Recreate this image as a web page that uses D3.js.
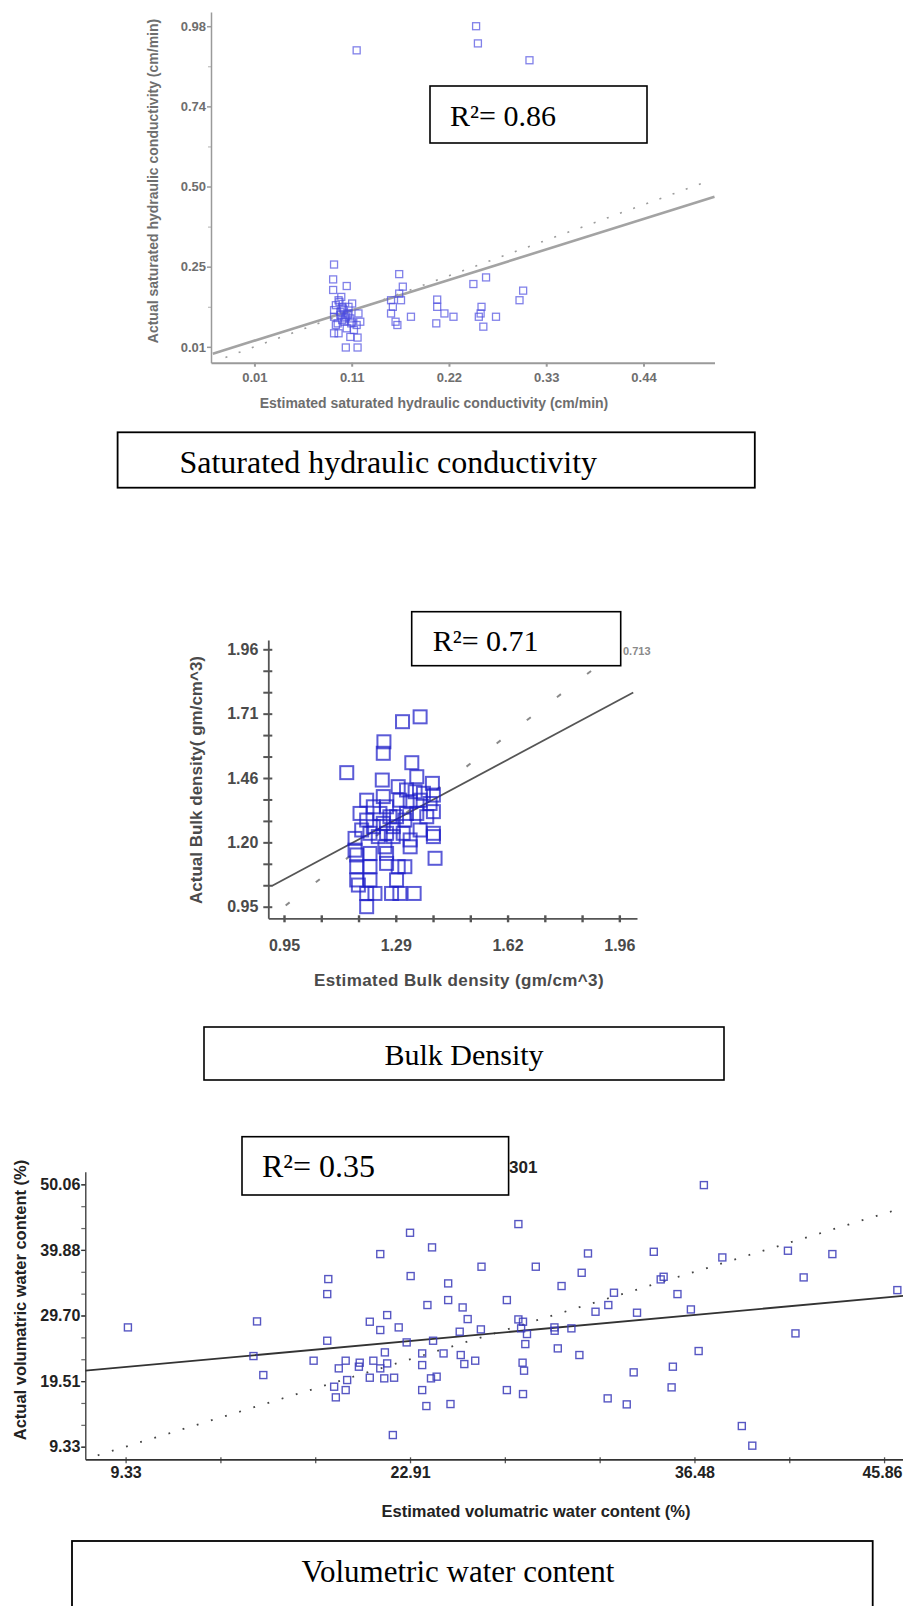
<!DOCTYPE html>
<html>
<head>
<meta charset="utf-8">
<script src="https://d3js.org/d3.v7.min.js"></script>
<style>
html,body{margin:0;padding:0;background:#fff;}
svg{display:block;}
</style>
</head>
<body>
<svg id="chart" width="903" height="1606"></svg>
<script>
// ===== Panel 1: Saturated hydraulic conductivity (cm/min) =====
const ksatEstimated = [0.123,0.255,0.257,0.314,0.098,0.097,0.097,0.112,0.098,0.111,
  0.124,0.124,0.103,0.107,0.114,0.118,0.125,0.127,0.107,0.100,
  0.112,0.120,0.105,0.116,0.109,0.098,0.123,0.103,0.116,0.098,
  0.106,0.114,0.111,0.118,0.100,0.170,0.174,0.172,0.161,0.161,
  0.166,0.183,0.168,0.163,0.170,0.212,0.212,0.220,0.230,0.211,
  0.252,0.266,0.261,0.260,0.258,0.263,0.277,0.303,0.307,
  0.105,0.110,0.113,0.108,0.102,0.117,0.104,0.109];
const ksatActual = [0.907,0.980,0.928,0.877,0.259,0.214,0.182,0.194,0.051,0.008,
  0.008,0.038,0.151,0.131,0.111,0.141,0.111,0.086,0.091,0.076,
  0.066,0.061,0.106,0.096,0.121,0.121,0.076,0.051,0.040,0.101,
  0.161,0.131,0.101,0.086,0.136,0.230,0.192,0.151,0.151,0.111,
  0.086,0.101,0.076,0.131,0.171,0.153,0.131,0.111,0.101,0.081,
  0.200,0.220,0.131,0.111,0.101,0.071,0.101,0.151,0.180,
  0.116,0.096,0.106,0.126,0.081,0.081,0.146,0.086];
const ksatXTickValues = [0.01, 0.1175, 0.225, 0.3325, 0.44];
const ksatXTickLabels = ["0.01","0.11","0.22","0.33","0.44"];
const ksatYTickValues = [0.01, 0.2525, 0.495, 0.7375, 0.98];
const ksatYTickLabels = ["0.01","0.25","0.50","0.74","0.98"];
const ksatFit = [0.02, 0.856];      // intercept, slope
const ksatR2 = "0.86";

// ===== Panel 2: Bulk density (gm/cm^3) =====
const bdEstimated = [1.139,1.251,1.249,1.307,1.360,1.335,1.246,1.350,1.397,
  1.294,1.319,1.345,1.370,1.400,1.299,1.330,1.360,1.390,1.400,1.350,1.319,1.380,1.289,
  1.199,1.219,1.249,1.259,1.239,1.269,1.179,1.199,1.219,1.249,1.279,1.259,1.234,1.209,1.184,1.279,1.309,1.330,1.330,1.360,1.400,1.400,1.405,1.314,
  1.164,1.164,1.169,1.169,1.169,1.174,1.209,1.209,1.209,1.259,1.259,1.254,1.294,1.314,1.289,
  1.199,1.224,1.199,1.274,1.299,1.342];
const bdActual = [1.476,1.597,1.552,1.676,1.695,1.515,1.447,1.460,1.434,
  1.421,1.408,1.401,1.395,1.388,1.368,1.362,1.368,1.355,1.323,1.316,1.316,1.303,1.303,
  1.368,1.342,1.382,1.342,1.316,1.303,1.316,1.290,1.264,1.277,1.264,1.238,1.225,1.238,1.251,1.225,1.238,1.212,1.185,1.251,1.238,1.225,1.140,1.290,
  1.218,1.172,1.153,1.107,1.055,1.035,1.159,1.107,1.055,1.159,1.120,1.185,1.107,1.107,1.055,
  1.002,1.002,0.950,1.002,1.002,1.002];
const bdXTickValues = [0.95, 1.2867, 1.6233, 1.96];
const bdXTickLabels = ["0.95","1.29","1.62","1.96"];
const bdYTickValues = [0.95, 1.2025, 1.455, 1.7075, 1.96];
const bdYTickLabels = ["0.95","1.20","1.46","1.71","1.96"];
const bdFit = [0.395, 0.697];
const bdR2 = "0.71";
const bdSideLabel = "0.713";

// ===== Panel 3: Volumetric water content (%) =====
const vwcEstimated = [9.44,15.60,15.43,15.90,19.00,18.95,18.95,18.30,19.50,19.28,
  19.36,19.83,19.90,19.83,20.46,20.50,20.98,21.48,21.48,21.81,
  22.36,21.70,21.15,21.48,21.81,20.98,21.67,22.14,22.08,22.90,
  22.93,22.74,23.48,23.48,23.48,23.68,23.73,23.95,24.00,23.90,
  24.17,24.50,24.72,24.72,24.83,25.41,25.65,25.27,25.32,25.49,
  26.01,26.31,26.28,27.52,28.07,28.07,28.29,28.20,28.48,28.40,
  28.27,28.34,27.52,28.29,28.90,29.79,29.80,29.95,30.13,30.60,
  30.98,31.09,31.39,31.75,32.36,32.63,32.33,33.24,33.57,33.73,
  34.53,34.86,35.00,35.38,35.44,35.66,36.30,36.67,36.92,37.80,
  38.73,39.23,40.93,41.29,41.68,43.05,46.15];
const vwcActual = [27.85,28.78,23.40,20.45,35.35,33.02,25.78,22.68,21.49,18.64,
  16.99,18.12,19.68,22.68,21.75,22.37,28.73,39.23,27.44,29.76,
  27.85,23.97,22.68,21.49,22.26,20.04,19.94,20.04,11.14,42.54,
  35.82,25.52,23.81,22.00,18.12,15.64,31.32,40.27,25.78,19.94,
  20.20,23.81,34.68,32.09,15.95,30.95,29.14,27.18,23.56,22.16,
  22.68,37.27,27.54,32.09,43.89,29.09,28.73,27.70,26.82,25.26,
  22.37,21.13,18.12,17.50,37.27,27.85,27.33,24.59,34.27,27.70,
  23.56,36.33,39.33,30.28,31.32,33.23,16.83,15.90,20.87,30.13,
  39.59,35.30,35.71,18.54,21.75,33.02,30.64,24.18,49.94,38.71,
  12.54,9.49,39.75,26.92,35.61,39.23,33.64];
const vwcXTickValues = [9.33, 22.90, 36.47, 45.52];
const vwcXTickLabels = ["9.33","22.91","36.48","45.86"];
const vwcYTickValues = [9.33, 19.51, 29.70, 39.88, 50.06];
const vwcYTickLabels = ["9.33","19.51","29.70","39.88","50.06"];
const vwcFit = [18.92, 0.298];
const vwcR2 = "0.35";
const vwcSideLabel = "301";

// ================= drawing helpers =================
const SANS = "'Liberation Sans', Arial, Helvetica, sans-serif";
const SERIF = "'Liberation Serif', 'Times New Roman', serif";
const svg = d3.select("#chart");
svg.append("rect").attr("width", 903).attr("height", 1606).attr("fill", "#fff");

function drawSquares(g, xs, ys, x, y, size, color, sw, op) {
  g.append("g").selectAll("rect")
    .data(xs.map((d, i) => [d, ys[i]]))
    .join("rect")
    .attr("x", d => x(d[0]) - size / 2)
    .attr("y", d => y(d[1]) - size / 2)
    .attr("width", size).attr("height", size)
    .attr("fill", "none")
    .attr("stroke", color)
    .attr("stroke-width", sw)
    .attr("stroke-opacity", op);
}
function drawLine(g, fn, x0, x1, x, y, color, sw, dash) {
  const ln = d3.line().x(d => x(d)).y(d => y(fn(d)));
  const p = g.append("path").datum([x0, x1]).attr("d", ln)
    .attr("fill", "none").attr("stroke", color).attr("stroke-width", sw);
  if (dash) p.attr("stroke-dasharray", dash).attr("stroke-linecap", "butt");
  return p;
}
function labelBox(g, bx, by, bw, bh, txt, tx, ty, fs, anchor, sw) {
  g.append("rect").attr("x", bx).attr("y", by).attr("width", bw).attr("height", bh)
    .attr("fill", "#fff").attr("stroke", "#000").attr("stroke-width", sw);
  g.append("text").attr("x", tx).attr("y", ty).attr("font-family", SERIF)
    .attr("font-size", fs).attr("text-anchor", anchor).attr("fill", "#000").text(txt);
}
function styleAxis(ax, color, textColor, fs, sw) {
  ax.attr("font-family", SANS).attr("font-size", fs).attr("font-weight", "bold");
  ax.selectAll("path, line").attr("stroke", color).attr("stroke-width", sw);
  ax.selectAll("text").attr("fill", textColor);
}
function vTitle(g, cx, cy, txt, fs, color) {
  g.append("text").attr("transform", `translate(${cx},${cy}) rotate(-90)`)
    .attr("text-anchor", "middle").attr("dy", "0.35em")
    .attr("font-family", SANS).attr("font-weight", "bold").attr("font-size", fs)
    .attr("fill", color).text(txt);
}
function hTitle(g, cx, cy, txt, fs, color, ls) {
  g.append("text").attr("x", cx).attr("y", cy)
    .attr("text-anchor", "middle").attr("dy", "0.35em")
    .attr("font-family", SANS).attr("font-weight", "bold").attr("font-size", fs)
    .attr("letter-spacing", ls || 0)
    .attr("fill", color).text(txt);
}

// ================= Panel 1 =================
{
  const g = svg.append("g");
  const x = d3.scaleLinear().domain([-0.038, 0.5185]).range([211, 714.5]);
  const y = d3.scaleLinear().domain([-0.038, 1.023]).range([362.7, 12]);
  const gray = "#9a9a9a";

  const yMinor = ksatYTickValues.slice(0, -1).map((v, i) => (v + ksatYTickValues[i + 1]) / 2);
  const yMin = g.append("g").attr("transform", `translate(${x.range()[0]},0)`)
    .call(d3.axisLeft(y).tickValues(yMinor).tickFormat("").tickSizeInner(3).tickSizeOuter(0));
  yMin.select(".domain").remove();
  yMin.selectAll("line").attr("stroke", "#b0b0b0");

  const ay = g.append("g").attr("transform", `translate(${x.range()[0]},0)`)
    .call(d3.axisLeft(y).tickValues(ksatYTickValues).tickFormat((d, i) => ksatYTickLabels[i])
      .tickSizeInner(4).tickSizeOuter(0).tickPadding(1));
  styleAxis(ay, gray, "#6e6e6e", 13, 1.5);

  const ax = g.append("g").attr("transform", `translate(0,${y.range()[0]})`)
    .call(d3.axisBottom(x).tickValues(ksatXTickValues).tickFormat((d, i) => ksatXTickLabels[i])
      .tickSizeInner(4).tickSizeOuter(0).tickPadding(6));
  styleAxis(ax, gray, "#6e6e6e", 13, 2);

  vTitle(g, 153.5, 181, "Actual saturated hydraulic conductivity (cm/min)", 14, "#6e6e6e");
  hTitle(g, 434, 403, "Estimated saturated hydraulic conductivity (cm/min)", 14, "#6e6e6e");

  drawLine(g, v => v, -0.022, 0.514, x, y, "#9c9c9c", 1.6, "2,12");
  drawLine(g, v => ksatFit[0] + ksatFit[1] * v, -0.036, 0.5185, x, y, "#a3a3a3", 2.6);

  drawSquares(g, ksatEstimated, ksatActual, x, y, 7, "#4b4be0", 1.3, 0.7);

  labelBox(g, 430, 86, 217, 57, "R\u00B2= " + ksatR2, 450, 126, 30, "start", 1.6);
  labelBox(g, 117.6, 432.3, 637.2, 55.4, "Saturated hydraulic conductivity", 179.4, 472.7, 32, "start", 1.8);
}

// ================= Panel 2 =================
{
  const g = svg.append("g");
  const x = d3.scaleLinear().domain([0.9027, 2.0133]).range([268.3, 637]);
  const y = d3.scaleLinear().domain([0.9045, 1.9965]).range([918.3, 640]);
  const ac = "#555";

  const yMinor = d3.range(13).map(i => bdYTickValues[0] + i * (bdYTickValues[1] - bdYTickValues[0]) / 3);
  const xMinor = d3.range(10).map(i => bdXTickValues[0] + i * (bdXTickValues[1] - bdXTickValues[0]) / 3);

  const ay = g.append("g").attr("transform", `translate(${x.range()[0]},0)`)
    .call(d3.axisLeft(y).tickValues(bdYTickValues).tickFormat((d, i) => bdYTickLabels[i])
      .tickSizeInner(4).tickSizeOuter(0).tickPadding(6));
  styleAxis(ay, ac, "#4a4a4a", 16, 1.8);
  ay.selectAll("line").remove();
  const ayT = g.append("g").attr("transform", `translate(${x.range()[0]},0)`)
    .call(d3.axisLeft(y).tickValues(yMinor).tickFormat("").tickSizeInner(4).tickSizeOuter(0));
  ayT.select(".domain").remove();
  ayT.selectAll("line").attr("x1", 4).attr("x2", -5).attr("stroke", ac).attr("stroke-width", 2);

  const ax = g.append("g").attr("transform", `translate(0,${y.range()[0]})`)
    .call(d3.axisBottom(x).tickValues(bdXTickValues).tickFormat((d, i) => bdXTickLabels[i])
      .tickSizeInner(4).tickSizeOuter(0).tickPadding(17));
  styleAxis(ax, ac, "#4a4a4a", 16, 1.8);
  ax.selectAll("line").remove();
  const axT = g.append("g").attr("transform", `translate(0,${y.range()[0]})`)
    .call(d3.axisBottom(x).tickValues(xMinor).tickFormat("").tickSizeInner(4).tickSizeOuter(0));
  axT.select(".domain").remove();
  axT.selectAll("line").attr("y1", -3).attr("y2", 4).attr("stroke", ac).attr("stroke-width", 2.4);

  vTitle(g, 196, 780, "Actual Bulk density( gm/cm^3)", 17, "#4a4a4a");
  hTitle(g, 459, 980, "Estimated Bulk density (gm/cm^3)", 17, "#4a4a4a", 0.4);

  drawLine(g, v => v, 0.955, 1.96, x, y, "#8a8a8a", 2, "5,33");
  drawLine(g, v => bdFit[0] + bdFit[1] * v, 0.913, 2.002, x, y, "#555", 1.8);

  drawSquares(g, bdEstimated, bdActual, x, y, 13, "#1c1cc8", 2, 0.72);

  labelBox(g, 411.7, 611.7, 209, 54, "R\u00B2= " + bdR2, 432.7, 650.7, 30, "start", 1.6);
  g.append("text").attr("x", 623).attr("y", 655).attr("font-family", SANS).attr("font-weight", "bold")
    .attr("font-size", 11).attr("fill", "#8a8a8a").text(bdSideLabel);
  labelBox(g, 204, 1027, 520, 53, "Bulk Density", 464, 1065, 30, "middle", 1.6);
}

// ================= Panel 3 =================
{
  const g = svg.append("g");
  const x = d3.scaleLinear().domain([7.407, 46.42]).range([85.3, 903]);
  const y = d3.scaleLinear().domain([7.374, 52.02]).range([1459.3, 1171.7]);
  const ac = "#333";

  const yMinor = d3.range(13).map(i => vwcYTickValues[0] + i * (vwcYTickValues[4] - vwcYTickValues[0]) / 12);
  const xMinor = d3.range(9).map(i => vwcXTickValues[0] + i * (vwcXTickValues[1] - vwcXTickValues[0]) / 3);

  const ayT = g.append("g").attr("transform", `translate(${x.range()[0]},0)`)
    .call(d3.axisLeft(y).tickValues(yMinor).tickFormat("").tickSizeInner(4).tickSizeOuter(0));
  ayT.select(".domain").remove();
  ayT.selectAll("line").attr("stroke", "#666").attr("stroke-width", 1.2);

  const ay = g.append("g").attr("transform", `translate(${x.range()[0]},0)`)
    .call(d3.axisLeft(y).tickValues(vwcYTickValues).tickFormat((d, i) => vwcYTickLabels[i])
      .tickSizeInner(4).tickSizeOuter(0).tickPadding(1));
  styleAxis(ay, ac, "#222", 16, 1.3);

  const axT = g.append("g").attr("transform", `translate(0,${y.range()[0]})`)
    .call(d3.axisBottom(x).tickValues(xMinor).tickFormat("").tickSizeInner(4).tickSizeOuter(0));
  axT.select(".domain").remove();
  axT.selectAll("line").attr("y1", -2).attr("stroke", "#555").attr("stroke-width", 1.3);

  const ax = g.append("g").attr("transform", `translate(0,${y.range()[0]})`)
    .call(d3.axisBottom(x).tickValues(vwcXTickValues).tickFormat((d, i) => vwcXTickLabels[i])
      .tickSizeInner(0).tickSizeOuter(0).tickPadding(7));
  styleAxis(ax, ac, "#222", 16, 1.8);
  // keep the last label inside the page edge
  ax.selectAll(".tick text").filter((d, i) => i === vwcXTickValues.length - 1)
    .attr("text-anchor", "end").attr("x", 902 - x(vwcXTickValues[vwcXTickValues.length - 1]));

  vTitle(g, 20, 1300, "Actual volumatric water content (%)", 16.5, "#222");
  hTitle(g, 536, 1511.7, "Estimated volumatric water content (%)", 16.5, "#222");

  drawLine(g, v => v, 8.0, 46.3, x, y, "#444", 1.8, "1.8,13");
  drawLine(g, v => vwcFit[0] + vwcFit[1] * v, 7.41, 46.42, x, y, "#333", 1.8);

  drawSquares(g, vwcEstimated, vwcActual, x, y, 7, "#3a3ab8", 1.4, 0.85);

  labelBox(g, 242, 1136.7, 266.6, 58.3, "R\u00B2= " + vwcR2, 262, 1177.3, 32, "start", 1.6);
  g.append("text").attr("x", 509).attr("y", 1173).attr("font-family", SANS).attr("font-weight", "bold")
    .attr("font-size", 17).attr("fill", "#222").text(vwcSideLabel);
  labelBox(g, 72, 1541, 800.7, 90, "Volumetric water content", 458, 1581.7, 31, "middle", 1.8);
}
</script>
</body>
</html>
